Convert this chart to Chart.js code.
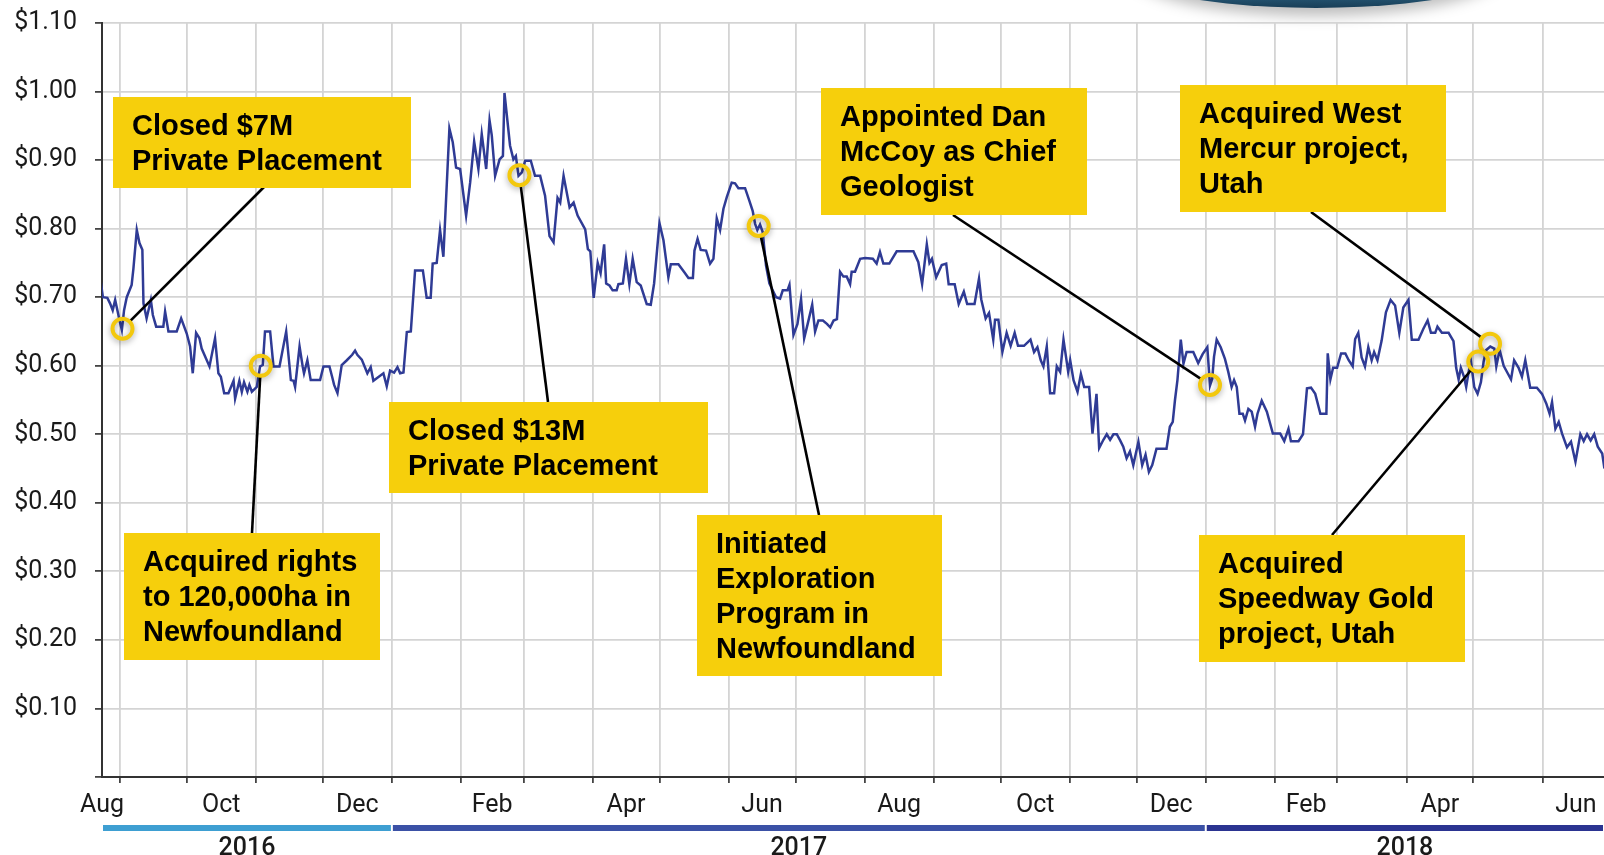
<!DOCTYPE html>
<html>
<head>
<meta charset="utf-8">
<script src="https://cdn.jsdelivr.net/npm/chart.js@4.4.1/dist/chart.umd.min.js"></script>
<style>
  html, body { margin: 0; padding: 0; background: #fff; }
  #wrap { width: 1604px; height: 855px; position: relative; }
</style>
</head>
<body>
<div id="wrap"><canvas id="chart"></canvas></div>
<script>
// Share price, Aug 2016 - Jun 2018, with corporate milestones
// x values are days since 1 Aug 2016
const START = Date.UTC(2016, 7, 1)

const dayOffsets = [
  22.2, 23.4, 25.4, 26.6, 27.8, 28.9, 29.9, 30.8, 31.9, 32.9, 34.1, 36.3, 37.1, 38.6, 39.8, 41.1, 41.6, 43.0, 44.9, 45.8,
  47.3, 50.5, 51.3, 52.8, 56.5, 58.5, 61.0, 62.5, 63.7, 65.2, 66.7, 67.7, 71.2, 73.7, 75.2, 76.3, 77.8, 79.7, 82.0, 82.7,
  84.6, 85.7, 86.7, 88.2, 89.1, 90.2, 92.4, 93.9, 95.1, 96.1, 98.4, 99.9, 102.6, 105.6, 107.7, 108.9, 109.6, 111.6, 113.0, 113.6,
  115.1, 116.6, 120.8, 122.3, 125.0, 126.2, 127.1, 128.6, 130.5, 132.8, 135.2, 136.5, 137.5, 139.5, 142.0, 143.5, 144.7, 149.2, 150.7, 152.2,
  154.0, 155.5, 156.7, 158.2, 159.7, 161.5, 163.4, 166.9, 168.6, 170.4, 171.3, 173.1, 174.6, 176.1, 178.8, 180.3, 181.8, 183.6, 186.3, 188.1,
  189.9, 191.8, 193.3, 195.3, 196.8, 197.8, 199.3, 201.3, 202.8, 203.5, 206.0, 207.5, 208.6, 209.8, 211.3, 212.8, 215.3, 217.2, 219.5, 221.7,
  223.7, 225.5, 227.3, 228.5, 230.0, 232.7, 234.5, 236.3, 239.7, 240.9, 242.0, 243.5, 245.3, 246.6, 248.2, 249.1, 250.6, 252.0, 253.8, 254.6,
  256.6, 258.0, 259.5, 261.0, 262.8, 264.6, 267.3, 269.1, 270.6, 273.0, 274.8, 277.0, 278.1, 281.5, 284.0, 286.0, 288.0, 288.7, 290.1, 291.5,
  293.9, 295.7, 297.2, 298.7, 300.2, 301.7, 303.2, 305.4, 306.9, 308.4, 311.4, 313.3, 314.8, 315.9, 316.9, 318.1, 319.3, 320.8, 322.3, 325.3,
  327.1, 328.3, 330.4, 331.3, 333.1, 334.9, 336.5, 337.9, 339.4, 341.5, 342.8, 344.3, 346.3, 348.1, 349.6, 351.1, 352.6, 354.0, 355.5, 357.0,
  358.5, 359.2, 360.7, 363.0, 365.2, 368.7, 370.4, 371.9, 373.4, 376.1, 379.4, 383.9, 386.9, 389.1, 390.8, 392.9, 394.1, 395.2, 397.1, 399.6,
  401.6, 402.7, 405.4, 407.2, 409.5, 411.0, 414.3, 416.3, 417.3, 419.3, 420.8, 422.7, 423.5, 425.0, 426.8, 428.7, 430.5, 432.3, 433.8, 436.5,
  439.4, 441.0, 442.5, 444.0, 445.2, 446.7, 448.2, 450.0, 451.2, 452.7, 454.2, 456.3, 457.2, 458.7, 460.5, 462.0, 463.5, 465.7, 467.2, 469.0,
  470.2, 472.1, 473.6, 475.1, 476.6, 478.1, 479.6, 481.0, 482.5, 484.0, 485.5, 487.8, 489.5, 491.0, 492.5, 494.0, 495.9, 500.4, 501.9, 503.2,
  504.2, 505.3, 506.8, 508.0, 509.4, 512.4, 514.6, 516.6, 518.7, 519.9, 520.9, 521.7, 522.9, 524.7, 526.6, 528.1, 529.6, 530.7, 531.9, 533.1,
  534.6, 535.6, 537.1, 538.6, 540.1, 541.2, 543.1, 545.4, 548.1, 551.4, 553.2, 555.1, 556.2, 559.6, 561.6, 563.4, 565.2, 567.1, 569.4, 572.1,
  572.7, 573.9, 575.1, 576.9, 578.7, 580.6, 582.1, 583.9, 585.0, 586.4, 587.9, 589.4, 590.9, 592.4, 593.5, 595.0, 596.9, 598.8, 600.9, 602.9,
  604.8, 606.6, 608.9, 610.4, 613.4, 615.6, 617.5, 619.0, 620.9, 621.9, 623.9, 626.9, 629.1, 630.3, 631.4, 632.4, 633.9, 634.8, 635.9, 636.9,
  638.4, 639.9, 641.4, 642.6, 643.8, 645.6, 647.4, 648.3, 649.8, 651.6, 653.4, 654.9, 656.3, 658.3, 659.8, 661.3, 663.5, 666.5, 668.8, 670.7,
  672.2, 673.3, 674.8, 676.3, 677.8, 680.0, 681.8, 683.8, 686.0, 687.5, 689.0, 690.6, 692.2, 693.8, 695.8, 696.8
]

const prices = [
  0.728, 0.700, 0.699, 0.691, 0.681, 0.696, 0.681, 0.667, 0.652, 0.681, 0.700, 0.718, 0.742, 0.798, 0.779, 0.769, 0.691, 0.669, 0.696, 0.674,
  0.657, 0.657, 0.679, 0.650, 0.650, 0.669, 0.647, 0.628, 0.589, 0.648, 0.640, 0.625, 0.599, 0.640, 0.589, 0.584, 0.560, 0.560, 0.578, 0.552,
  0.578, 0.562, 0.576, 0.562, 0.572, 0.562, 0.569, 0.599, 0.601, 0.650, 0.650, 0.599, 0.599, 0.650, 0.579, 0.578, 0.569, 0.628, 0.599, 0.589,
  0.608, 0.579, 0.579, 0.599, 0.599, 0.584, 0.572, 0.560, 0.601, 0.608, 0.616, 0.622, 0.616, 0.609, 0.589, 0.598, 0.578, 0.589, 0.570, 0.593,
  0.590, 0.598, 0.589, 0.590, 0.649, 0.650, 0.739, 0.739, 0.699, 0.699, 0.749, 0.750, 0.798, 0.759, 0.946, 0.926, 0.889, 0.887, 0.819, 0.867,
  0.927, 0.887, 0.938, 0.887, 0.958, 0.936, 0.877, 0.901, 0.906, 0.998, 0.921, 0.901, 0.906, 0.877, 0.882, 0.899, 0.899, 0.877, 0.877, 0.848,
  0.789, 0.780, 0.845, 0.838, 0.877, 0.831, 0.838, 0.819, 0.799, 0.770, 0.767, 0.699, 0.750, 0.735, 0.777, 0.720, 0.717, 0.710, 0.710, 0.719,
  0.720, 0.756, 0.719, 0.756, 0.722, 0.717, 0.690, 0.689, 0.720, 0.808, 0.783, 0.729, 0.748, 0.748, 0.737, 0.728, 0.728, 0.768, 0.785, 0.769,
  0.768, 0.749, 0.756, 0.815, 0.798, 0.829, 0.846, 0.867, 0.866, 0.859, 0.859, 0.841, 0.826, 0.807, 0.798, 0.806, 0.795, 0.746, 0.720, 0.700,
  0.698, 0.710, 0.710, 0.718, 0.645, 0.661, 0.697, 0.640, 0.660, 0.689, 0.650, 0.666, 0.666, 0.661, 0.656, 0.666, 0.668, 0.737, 0.730, 0.730,
  0.719, 0.737, 0.737, 0.756, 0.757, 0.756, 0.749, 0.766, 0.749, 0.749, 0.767, 0.767, 0.767, 0.751, 0.719, 0.777, 0.750, 0.756, 0.729, 0.747,
  0.749, 0.719, 0.719, 0.690, 0.708, 0.690, 0.690, 0.727, 0.697, 0.669, 0.677, 0.638, 0.667, 0.667, 0.620, 0.648, 0.629, 0.648, 0.629, 0.629,
  0.638, 0.620, 0.627, 0.608, 0.599, 0.628, 0.560, 0.560, 0.599, 0.591, 0.638, 0.591, 0.608, 0.579, 0.562, 0.588, 0.569, 0.569, 0.501, 0.559,
  0.480, 0.492, 0.500, 0.492, 0.500, 0.500, 0.491, 0.482, 0.465, 0.475, 0.455, 0.489, 0.455, 0.470, 0.445, 0.455, 0.479, 0.479, 0.511, 0.518,
  0.550, 0.579, 0.638, 0.603, 0.620, 0.620, 0.604, 0.617, 0.627, 0.571, 0.581, 0.613, 0.638, 0.627, 0.610, 0.591, 0.569, 0.579, 0.569, 0.530,
  0.530, 0.520, 0.537, 0.533, 0.511, 0.530, 0.549, 0.533, 0.501, 0.501, 0.490, 0.508, 0.490, 0.490, 0.500, 0.567, 0.568, 0.559, 0.530, 0.530,
  0.618, 0.580, 0.597, 0.597, 0.618, 0.618, 0.608, 0.599, 0.639, 0.648, 0.612, 0.599, 0.627, 0.608, 0.620, 0.608, 0.637, 0.678, 0.696, 0.688,
  0.648, 0.685, 0.696, 0.638, 0.638, 0.654, 0.666, 0.648, 0.648, 0.657, 0.648, 0.648, 0.636, 0.597, 0.580, 0.597, 0.583, 0.569, 0.591, 0.607,
  0.569, 0.559, 0.576, 0.606, 0.623, 0.628, 0.625, 0.599, 0.623, 0.600, 0.589, 0.580, 0.608, 0.597, 0.584, 0.608, 0.568, 0.568, 0.559, 0.545,
  0.530, 0.547, 0.508, 0.518, 0.501, 0.481, 0.489, 0.460, 0.500, 0.490, 0.500, 0.491, 0.500, 0.482, 0.472, 0.450
]

// milestones: day offset, price, text lines
const eventDays = [32.2, 94.2, 210.2, 317.5, 519.9, 645.5, 640.2]
const eventPrices = [0.654, 0.600, 0.878, 0.804, 0.572, 0.632, 0.606]
const eventTexts = [
  ['Closed $7M', 'Private Placement'],
  ['Acquired rights', 'to 120,000ha in', 'Newfoundland'],
  ['Closed $13M', 'Private Placement'],
  ['Initiated', 'Exploration', 'Program in', 'Newfoundland'],
  ['Appointed Dan', 'McCoy as Chief', 'Geologist'],
  ['Acquired West', 'Mercur project,', 'Utah'],
  ['Acquired', 'Speedway Gold', 'project, Utah']
]

const yTickValues = [0, 0.1, 0.2, 0.3, 0.4, 0.5, 0.6, 0.7, 0.8, 0.9, 1.0, 1.1]
const monthLabels = ['Aug', 'Oct', 'Dec', 'Feb', 'Apr', 'Jun']
const years = [2016, 2017, 2018]
const yearColors = ['#3e9fd2', '#3b51a6', '#2b3491']

const X_MIN = 23
const X_MAX = 696.6
const MONTHS = ['Jan', 'Feb', 'Mar', 'Apr', 'May', 'Jun', 'Jul', 'Aug', 'Sep', 'Oct', 'Nov', 'Dec']

function dayOf(y, m) {
  return (Date.UTC(y, m, 1) - START) / 86400000
}

// gridline at each month start, label centred in every other month
const xTicks = []
years.forEach(y => {
  for (let m = 0; m < 12; m++) {
    const start = dayOf(y, m)
    const end = dayOf(y, m + 1)
    if (start >= X_MIN && start <= X_MAX) xTicks.push({ value: start, label: '', grid: true })
    if (monthLabels.includes(MONTHS[m]) && end > X_MIN && start < X_MAX) {
      const mid = Math.min(Math.max((start + end) / 2, X_MIN), X_MAX)
      xTicks.push({ value: mid, label: MONTHS[m], grid: false })
    }
  }
})
xTicks.sort((a, b) => a.value - b.value)

// box layout for the milestone call-outs (pixels) and leader-line start
const boxes = [
  { x: 113, y: 97, w: 298, h: 91, ax: 264, ay: 187 },
  { x: 124, y: 533, w: 256, h: 127, ax: 252, ay: 533 },
  { x: 389, y: 402, w: 319, h: 91, ax: 548, ay: 402 },
  { x: 697, y: 515, w: 245, h: 161, ax: 819, ay: 515 },
  { x: 821, y: 88, w: 266, h: 127, ax: 953, ay: 215 },
  { x: 1180, y: 85, w: 266, h: 127, ax: 1311, ay: 212 },
  { x: 1199, y: 535, w: 266, h: 127, ax: 1332, ay: 535 }
]

const YELLOW = '#f6cf0c'

const decorPlugin = {
  id: 'decor',
  beforeDraw(chart) {
    const c = chart.ctx
    c.save()
    c.fillStyle = 'rgba(0,0,0,0.26)'
    c.filter = 'blur(7px)'
    c.beginPath()
    c.ellipse(1316, -32, 192, 48, 0, 0, Math.PI * 2)
    c.fill()
    c.filter = 'none'
    const g = c.createLinearGradient(0, -10, 0, 9)
    g.addColorStop(0, '#2d6383')
    g.addColorStop(1, '#173c55')
    c.fillStyle = g
    c.beginPath()
    c.ellipse(1316, -52, 233, 60, 0, 0, Math.PI * 2)
    c.fill()
    c.restore()
  }
}

const yearPlugin = {
  id: 'years',
  afterDraw(chart) {
    const c = chart.ctx
    const xs = chart.scales.x
    c.save()
    c.font = '500 25px Roboto'
    c.textAlign = 'center'
    c.textBaseline = 'alphabetic'
    years.forEach((y, i) => {
      const x0 = xs.getPixelForValue(Math.max(dayOf(y, 0), X_MIN))
      const x1 = xs.getPixelForValue(Math.min(dayOf(y + 1, 0), X_MAX))
      c.fillStyle = yearColors[i]
      c.fillRect(x0 + 1, 825, x1 - x0 - 2, 6)
      c.fillStyle = '#1a1a1a'
      c.fillText(String(y), (x0 + x1) / 2, 855)
    })
    c.restore()
  }
}

const calloutPlugin = {
  id: 'callouts',
  afterDatasetsDraw(chart) {
    const c = chart.ctx
    const xs = chart.scales.x
    const ys = chart.scales.y
    const r = 10
    c.save()
    eventDays.forEach((d, i) => {
      const b = boxes[i]
      const px = xs.getPixelForValue(d)
      const py = ys.getPixelForValue(eventPrices[i])
      // leader line, stopping at the ring
      const dx = px - b.ax, dy = py - b.ay
      const len = Math.hypot(dx, dy)
      c.strokeStyle = '#000'
      c.lineWidth = 2.6
      c.beginPath()
      c.moveTo(b.ax, b.ay)
      c.lineTo(px - dx / len * r, py - dy / len * r)
      c.stroke()
      // box + text
      c.fillStyle = YELLOW
      c.fillRect(b.x, b.y, b.w, b.h)
      c.fillStyle = '#000'
      c.font = 'bold 29px "Liberation Sans", Arial, sans-serif'
      c.textAlign = 'left'
      c.textBaseline = 'alphabetic'
      eventTexts[i].forEach((t, k) => c.fillText(t, b.x + 19, b.y + 38 + k * 35))
    })
    // rings on the price line
    eventDays.forEach((d, i) => {
      const px = xs.getPixelForValue(d)
      const py = ys.getPixelForValue(eventPrices[i])
      c.save()
      c.shadowColor = 'rgba(0,0,0,0.35)'
      c.shadowBlur = 6
      c.shadowOffsetY = 2
      c.strokeStyle = '#f3c80d'
      c.lineWidth = 4
      c.beginPath()
      c.arc(px, py, r, 0, Math.PI * 2)
      c.stroke()
      c.restore()
    })
    c.restore()
  }
}

new Chart(document.getElementById('chart').getContext('2d'), {
  type: 'line',
  data: {
    datasets: [{
      data: dayOffsets.map((d, i) => ({ x: d, y: prices[i] })),
      borderColor: '#2f3b95',
      borderWidth: 2.5,
      pointRadius: 0,
      tension: 0,
      fill: false
    }]
  },
  options: {
    animation: false,
    responsive: true,
    maintainAspectRatio: false,
    layout: { padding: { top: 23, right: 0, left: 0, bottom: 0 } },
    plugins: {
      legend: { display: false },
      tooltip: { enabled: false }
    },
    scales: {
      x: {
        type: 'linear',
        min: X_MIN,
        max: X_MAX,
        afterBuildTicks: s => { s.ticks = xTicks.map(t => ({ value: t.value })) },
        afterFit: s => { s.height = 78; s.paddingLeft = 0; s.paddingRight = 0 },
        ticks: {
          autoSkip: false,
          maxRotation: 0,
          padding: 8,
          color: '#1a1a1a',
          font: { family: 'Roboto', size: 25 },
          callback: (v, i) => xTicks[i].label
        },
        grid: {
          color: c => (xTicks[c.index] && xTicks[c.index].grid) ? '#d4d4d4' : 'rgba(0,0,0,0)',
          tickColor: c => (xTicks[c.index] && xTicks[c.index].grid) ? '#444' : 'rgba(0,0,0,0)',
          lineWidth: 1.8,
          tickLength: 6
        },
        border: { color: '#333', width: 2 }
      },
      y: {
        min: 0,
        max: 1.1,
        afterBuildTicks: s => { s.ticks = yTickValues.map(v => ({ value: v })) },
        afterFit: s => { s.width = 102; s.paddingTop = 0; s.paddingBottom = 0 },
        ticks: {
          padding: 18,
          color: '#1a1a1a',
          font: { family: 'Roboto', size: 25 },
          callback: v => v === 0 ? '' : '$' + v.toFixed(2)
        },
        grid: { color: '#d4d4d4', lineWidth: 1.8, tickLength: 7, tickColor: '#444' },
        border: { color: '#333', width: 2 }
      }
    }
  },
  plugins: [decorPlugin, yearPlugin, calloutPlugin]
})
</script>
</body>
</html>
